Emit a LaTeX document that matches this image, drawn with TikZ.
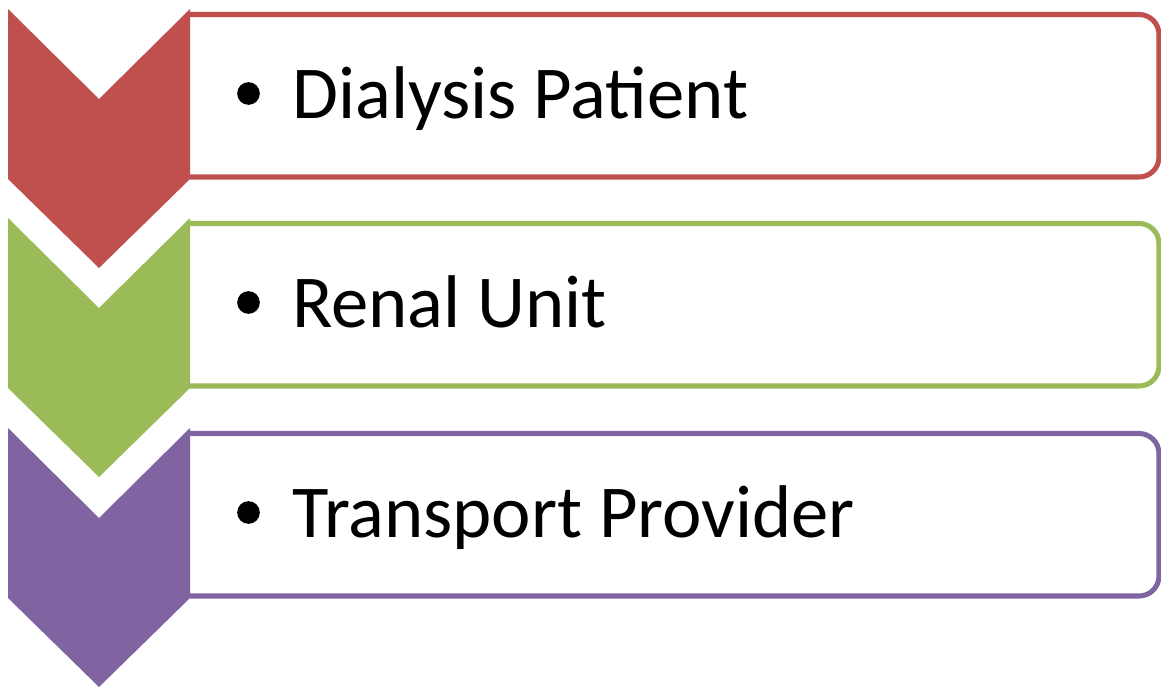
\documentclass[tikz,border=0pt]{standalone}
\usepackage{fontspec}
\setmainfont{Carlito}
\usepackage{tikz}
\usetikzlibrary{positioning}

\definecolor{stepred}{HTML}{C0504D}
\definecolor{stepgreen}{HTML}{9BBB59}
\definecolor{steppurple}{HTML}{8064A2}

\tikzset{
  itembox/.style={line width=3.8pt, rounded corners=15pt},
  itemdot/.style={circle, fill=black, inner sep=0pt, minimum size=17pt},
  itemtext/.style={anchor=base west, inner sep=0pt, font=\fontsize{56}{60}\selectfont}
}

\begin{document}
\begin{tikzpicture}[x=0.75pt, y=-0.75pt]
  \useasboundingbox (0,0) rectangle (1161,687);
  % one chevron and one box per step, top edge at \t
  \foreach \col/\t/\lbl/\name in {stepred/9/Dialysis Patient/patient,
                                  stepgreen/218/Renal Unit/unit,
                                  steppurple/428/Transport Provider/transport}{
    \draw[itembox, draw=\col] (190,\t+5.5) -- (1159,\t+5.5) -- (1159,\t+168) -- (190,\t+168);
    \fill[\col] (8,\t) -- (99,\t+90) -- (190,\t) -- (190,\t+170)
                -- (99,\t+259) -- (8,\t+170) -- cycle;
    \node[itemdot] (\name-dot) at (248.5,\t+84.5) {};
    \node[itemtext] (\name) at (292,\t+109) {\lbl};
  }
\end{tikzpicture}
\end{document}
